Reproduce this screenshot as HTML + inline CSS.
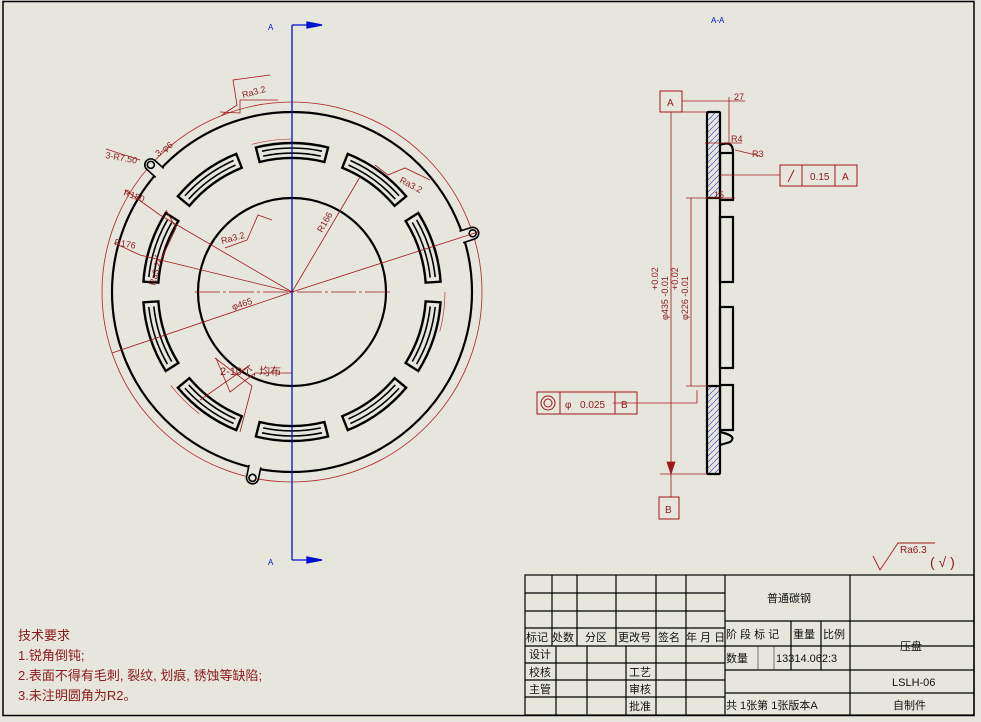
<!DOCTYPE html>
<html><head><meta charset="utf-8"><style>
html,body{margin:0;padding:0;background:#e7e6dd;}
svg{display:block}
text{font-family:"Liberation Sans","Noto Sans CJK SC",sans-serif;}
.t{font-size:11px;fill:#111}
.r{fill:#8b1a1a}
</style></head><body>
<svg width="981" height="722" viewBox="0 0 981 722" xmlns="http://www.w3.org/2000/svg">
<rect x="0" y="0" width="981" height="722" fill="#e7e6dd"/>
<rect x="3" y="1.5" width="971" height="714" fill="none" stroke="#000" stroke-width="1.5"/>
<defs>
<g id="slot" fill="none" stroke="#000" stroke-width="2.4">
<path d="M255.9,147.5 A149 149 0 0 1 328.1,147.5 L324.4,162 A134 134 0 0 0 259.6,162 Z"/>
<path d="M262,151.2 A144 144 0 0 1 322,151.2" stroke-width="1.6"/>
<path d="M263.1,156.1 A139 139 0 0 1 320.9,156.1" stroke-width="1.6"/>
</g>
<g id="lug" fill="#e7e6dd" stroke="#000" stroke-width="1.6">
<path d="M286,114 L286,102 A6 6 0 0 1 298,102 L298,114"/>
<circle cx="292" cy="102" r="3.5"/>
</g>
</defs>
<!-- front view -->
<circle cx="292" cy="292" r="190" fill="none" stroke="#b02020" stroke-width="0.8"/>
<circle cx="292" cy="292" r="180" fill="none" stroke="#000" stroke-width="2.2"/>
<circle cx="292" cy="292" r="94" fill="none" stroke="#000" stroke-width="2.2"/>
<circle cx="292" cy="292" r="153" fill="none" stroke="#b02020" stroke-width="0.6" stroke-dasharray="40 300"/>
<use href="#lug" transform="rotate(-48 292 292)"/>
<use href="#lug" transform="rotate(72 292 292)"/>
<use href="#lug" transform="rotate(192 292 292)"/>
<use href="#slot"/>
<use href="#slot" transform="rotate(36 292 292)"/>
<use href="#slot" transform="rotate(72 292 292)"/>
<use href="#slot" transform="rotate(108 292 292)"/>
<use href="#slot" transform="rotate(144 292 292)"/>
<use href="#slot" transform="rotate(180 292 292)"/>
<use href="#slot" transform="rotate(216 292 292)"/>
<use href="#slot" transform="rotate(252 292 292)"/>
<use href="#slot" transform="rotate(288 292 292)"/>
<use href="#slot" transform="rotate(324 292 292)"/>
<!-- red dims -->
<g stroke="#a01818" stroke-width="0.8" fill="none">
<line x1="195" y1="292" x2="390" y2="292" stroke-dasharray="25 3 3 3"/>
<line x1="292" y1="292" x2="112" y2="353"/>
<line x1="292" y1="292" x2="478" y2="232"/>
<line x1="292" y1="292" x2="360" y2="177"/>
<line x1="292" y1="292" x2="160" y2="215"/>
<line x1="292" y1="292" x2="140" y2="255"/>
<line x1="125" y1="190" x2="160" y2="215"/>
<line x1="114" y1="243" x2="140" y2="255"/>
<line x1="106" y1="149" x2="140" y2="160"/>
<polyline points="220,112 240,113 240,100 278,100"/>
<polyline points="222,115 237,105 233,80 270,75"/>
<polyline points="375,165 388,175 405,168 430,180"/>
<polyline points="225,248 247,240 258,215 272,220"/>
<polyline points="166,210 176,228 160,262 155,255"/>
<polyline points="216,358 230,392 255,373 292,373"/>
<line x1="200" y1="400" x2="250" y2="365"/>
<line x1="215" y1="358" x2="252" y2="386"/>
<line x1="252" y1="386" x2="240" y2="432"/>
</g>
<g class="r" font-size="9">
<text x="243" y="98" transform="rotate(-15 243 98)">Ra3.2</text>
<text x="105" y="158" transform="rotate(10 105 158)">3-R7.50</text>
<text x="158" y="157" transform="rotate(-35 158 157)">3-φ6</text>
<text x="123" y="195" transform="rotate(20 123 195)">R180</text>
<text x="114" y="245" transform="rotate(10 114 245)">R176</text>
<text x="399" y="182" transform="rotate(28 399 182)">Ra3.2</text>
<text x="222" y="244" transform="rotate(-15 222 244)">Ra3.2</text>
<text x="322" y="233" transform="rotate(-60 322 233)">R166</text>
<text x="233" y="310" transform="rotate(-18 233 310)">φ465</text>
<text x="155" y="286" transform="rotate(-75 155 286)">Ra3.2</text>
<text x="220" y="375" font-size="11">2-10个, 均布</text>
</g>
<!-- blue section line -->
<g stroke="#0010d0" stroke-width="1.3" fill="#0010d0">
<line x1="292" y1="25" x2="292" y2="560"/>
<line x1="292" y1="25" x2="322" y2="25"/>
<line x1="292" y1="560" x2="322" y2="560"/>
<path d="M307,22 L322,25 L307,28 Z"/>
<path d="M307,557 L322,560 L307,563 Z"/>
</g>
<text x="268" y="30" font-size="8" fill="#0010d0">A</text>
<text x="268" y="565" font-size="8" fill="#0010d0">A</text>
<text x="711" y="23" font-size="8" fill="#0010d0">A-A</text>
<!-- section view -->
<defs><pattern id="h" width="6" height="6" patternUnits="userSpaceOnUse"><path d="M0,6 L6,0" stroke="#2030c0" stroke-width="0.6"/></pattern></defs>
<rect x="707" y="112" width="13" height="86" fill="url(#h)"/>
<rect x="707" y="386" width="13" height="88" fill="url(#h)"/>
<g fill="none" stroke="#000" stroke-width="2.2">
<rect x="707" y="112" width="13" height="362" rx="1"/>
<line x1="707" y1="198" x2="720" y2="198"/>
<line x1="707" y1="386" x2="720" y2="386"/>
<rect x="720" y="153" width="13" height="47"/>
<rect x="720" y="217" width="13" height="65"/>
<rect x="720" y="307" width="13" height="61"/>
<rect x="720" y="385" width="13" height="45"/>
<path d="M720,145 Q733,140 733,152"/>
<path d="M720,432 Q738,436 730,442 L720,445"/>
</g>
<g stroke="#a01818" stroke-width="0.8" fill="#a01818">
<line x1="671" y1="112" x2="671" y2="474"/>
<line x1="691" y1="198" x2="691" y2="386"/>
<line x1="660" y1="474" x2="707" y2="474"/>
<line x1="686" y1="198" x2="707" y2="198"/>
<line x1="686" y1="386" x2="707" y2="386"/>
<line x1="682" y1="101" x2="720" y2="101"/>
<line x1="682" y1="112" x2="707" y2="112"/>
<line x1="729" y1="97" x2="729" y2="145"/>
<line x1="720" y1="101" x2="745" y2="101"/>
<line x1="705" y1="143" x2="742" y2="143"/>
<line x1="735" y1="150" x2="760" y2="156"/>
<line x1="720" y1="175" x2="780" y2="175"/>
<line x1="705" y1="198" x2="735" y2="198"/>
<line x1="613" y1="403" x2="697" y2="403"/>
<line x1="697" y1="403" x2="697" y2="390"/>
<line x1="671" y1="474" x2="671" y2="497"/>
<path d="M671,474 L667,462 L675,462 Z"/>
</g>
<g fill="none" stroke="#a01818" stroke-width="1">
<rect x="660" y="91" width="22" height="21"/>
<rect x="659" y="497" width="20" height="22"/>
<rect x="780" y="165" width="77" height="21"/>
<line x1="802" y1="165" x2="802" y2="186"/><line x1="835" y1="165" x2="835" y2="186"/>
<rect x="537" y="392" width="100" height="22"/>
<line x1="560" y1="392" x2="560" y2="414"/><line x1="615" y1="392" x2="615" y2="414"/>
<circle cx="548" cy="403" r="7"/><circle cx="548" cy="403" r="4"/>
<line x1="788" y1="182" x2="794" y2="170"/>
</g>
<g class="r" font-size="10">
<text x="667" y="106">A</text>
<text x="665" y="513">B</text>
<text x="734" y="100" font-size="9">27</text>
<text x="731" y="142" font-size="9">R4</text>
<text x="752" y="157" font-size="9">R3</text>
<text x="714" y="198" font-size="9">15</text>
<text x="810" y="180">0.15</text>
<text x="842" y="180">A</text>
<text x="565" y="408">φ</text>
<text x="580" y="408">0.025</text>
<text x="621" y="408">B</text>
<text x="668" y="320" font-size="9" transform="rotate(-90 668 320)">φ435 -0.01</text>
<text x="658" y="290" font-size="9" transform="rotate(-90 658 290)">+0.02</text>
<text x="688" y="320" font-size="9" transform="rotate(-90 688 320)">φ226 -0.01</text>
<text x="678" y="290" font-size="9" transform="rotate(-90 678 290)">+0.02</text>
</g>
<!-- roughness -->
<g stroke="#a01818" stroke-width="0.9" fill="none">
<polyline points="873,556 880,570 898,543 935,543"/>
</g>
<text x="900" y="553" class="r" font-size="10">Ra6.3</text>
<text x="930" y="567" class="r" font-size="14">( √ )</text>
<!-- tech requirements -->
<g class="r" font-size="13">
<text x="18" y="640">技术要求</text>
<text x="18" y="660">1.锐角倒钝;</text>
<text x="18" y="680">2.表面不得有毛刺, 裂纹, 划痕, 锈蚀等缺陷;</text>
<text x="18" y="700">3.未注明圆角为R2。</text>
</g>
<!-- title block -->
<g stroke="#000" stroke-width="1.2" fill="none">
<rect x="525" y="575" width="449" height="140"/>
<line x1="525" y1="593" x2="725" y2="593"/>
<line x1="525" y1="611" x2="725" y2="611"/>
<line x1="525" y1="628" x2="725" y2="628"/>
<line x1="525" y1="646" x2="974" y2="646"/>
<line x1="525" y1="663" x2="725" y2="663"/>
<line x1="525" y1="680" x2="725" y2="680"/>
<line x1="525" y1="697" x2="725" y2="697"/>
<line x1="552" y1="575" x2="552" y2="646"/>
<line x1="577" y1="575" x2="577" y2="646"/>
<line x1="616" y1="575" x2="616" y2="646"/>
<line x1="656" y1="575" x2="656" y2="715"/>
<line x1="686" y1="575" x2="686" y2="715"/>
<line x1="725" y1="575" x2="725" y2="715"/>
<line x1="556" y1="646" x2="556" y2="715"/>
<line x1="587" y1="646" x2="587" y2="715"/>
<line x1="626" y1="646" x2="626" y2="715"/>
<line x1="850" y1="575" x2="850" y2="715"/>
<line x1="725" y1="621" x2="974" y2="621"/>
<line x1="725" y1="670" x2="974" y2="670"/>
<line x1="725" y1="693" x2="974" y2="693"/>
<line x1="791" y1="621" x2="791" y2="670"/>
<line x1="821" y1="621" x2="821" y2="670"/>
<line x1="758" y1="646" x2="758" y2="670" stroke-width="0.5"/>
<line x1="774" y1="646" x2="774" y2="670" stroke-width="0.5"/>
</g>
<g class="t">
<text x="526" y="641">标记</text><text x="552" y="641">处数</text><text x="585" y="641">分区</text>
<text x="618" y="641">更改号</text><text x="658" y="641">签名</text><text x="686" y="641">年 月 日</text>
<text x="529" y="658">设计</text><text x="529" y="676">校核</text><text x="529" y="693">主管</text>
<text x="629" y="676">工艺</text><text x="629" y="693">审核</text><text x="629" y="710">批准</text>
<text x="767" y="602">普通碳钢</text>
<text x="726" y="638">阶 段 标 记</text><text x="793" y="638">重量</text><text x="823" y="638">比例</text>
<text x="726" y="662">数量</text><text x="776" y="662">13314.062:3</text>
<text x="726" y="709">共 1张第 1张版本A</text>
<text x="900" y="650">压盘</text>
<text x="892" y="686">LSLH-06</text>
<text x="893" y="709">自制件</text>
</g>
</svg>
</body></html>
